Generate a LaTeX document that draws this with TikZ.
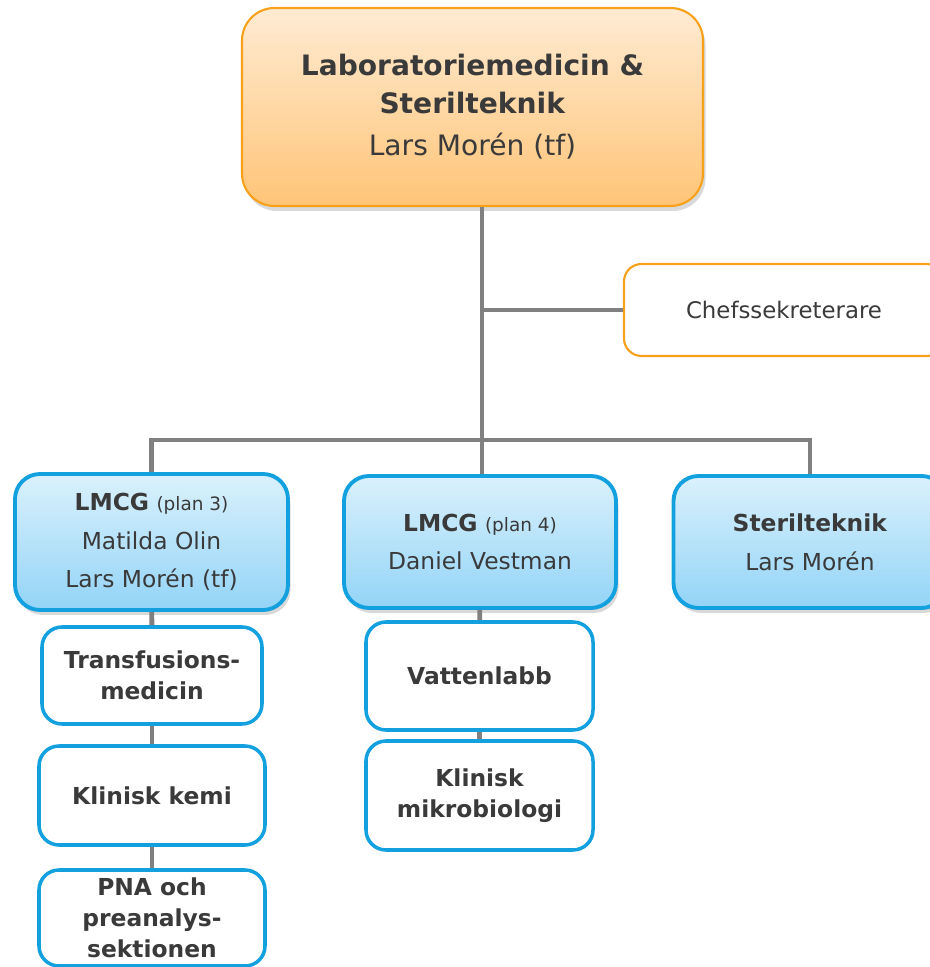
\documentclass[tikz,border=0pt]{standalone}
\usepackage{fontspec}
\setmainfont{DejaVu Sans}
\usetikzlibrary{positioning,shadows}
\definecolor{linegray}{HTML}{808080}
\definecolor{textgray}{HTML}{3A3A3A}
\definecolor{orangeline}{HTML}{F7A11A}
\definecolor{orangetop}{HTML}{FFEBD3}
\definecolor{orangebot}{HTML}{FFC477}
\definecolor{blueline}{HTML}{12A0DE}
\definecolor{bluetop}{HTML}{DAF1FC}
\definecolor{bluebot}{HTML}{93D4F7}

\begin{document}
\begin{tikzpicture}[link/.style={draw=linegray,line width=2.8pt},
	headnode/.style={rectangle,rounded corners=0.65cm,draw=orangeline,line width=1.2pt,top color=orangetop,bottom color=orangebot,drop shadow={shadow xshift=0.05cm,shadow yshift=-0.1cm,opacity=0.3},text=textgray,align=center,inner sep=0pt,font=\fontsize{16}{21.6}\selectfont},
	sidenode/.style={rectangle,rounded corners=0.35cm,draw=orangeline,line width=1.2pt,fill=white,text=textgray,inner sep=0pt,font=\fontsize{13}{17}\selectfont},
	unitnode/.style={rectangle,rounded corners=0.5cm,draw=blueline,line width=2.2pt,top color=bluetop,bottom color=bluebot,drop shadow={shadow xshift=0.05cm,shadow yshift=-0.1cm,opacity=0.3},text=textgray,align=center,inner sep=0pt,minimum height=2.64cm,minimum width=5.46cm,font=\fontsize{13.3}{22}\selectfont},
	subnode/.style={rectangle,rounded corners=0.4cm,draw=blueline,line width=2pt,fill=white,text=textgray,align=center,inner sep=0pt,minimum width=4.5cm,minimum height=2cm,font=\bfseries\fontsize{13.3}{17.5}\selectfont}]
	
	\useasboundingbox (0, 0) rectangle (18.6, 19.34);
	\clip (0, 0) rectangle (18.6, 19.34);
	
	\coordinate (trunk) at (9.64, 10.54);
	
	\node [headnode,minimum width=9.22cm,minimum height=3.96cm] (top) at (9.45, 17.2) {\textbf{Laboratoriemedicin \&}\\\textbf{Sterilteknik}\\[0.08cm]Lars Morén (tf)};
	\node [sidenode,minimum width=6.4cm,minimum height=1.84cm] (chef) at (15.68, 13.14) {Chefssekreterare};
	
	\node [unitnode,minimum height=2.72cm] (lmcgA) at (3.03, 8.5) {\textbf{LMCG} {\fontsize{10.5}{12}\selectfont(plan 3)}\\Matilda Olin\\Lars Morén (tf)};
	\node [unitnode,minimum width=5.44cm] (lmcgB) at (9.6, 8.5) {\textbf{LMCG} {\fontsize{10.5}{12}\selectfont(plan 4)}\\Daniel Vestman};
	\node [unitnode] (steril) at (16.2, 8.5) {\textbf{Sterilteknik}\\Lars Morén};
	
	\node [subnode,minimum width=4.4cm,minimum height=1.94cm] (transf) at (3.04, 5.83) {Transfusions-\\medicin};
	\node [subnode,minimum width=4.52cm,minimum height=1.98cm] (kemi) at (3.04, 3.43) {Klinisk kemi};
	\node [subnode,minimum width=4.52cm,minimum height=1.92cm] (pna) at (3.04, 0.98) {PNA och\\preanalys-\\sektionen};
	\node [subnode,minimum width=4.54cm,minimum height=2.16cm] (vatten) at (9.59, 5.82) {Vattenlabb};
	\node [subnode,minimum width=4.54cm,minimum height=2.18cm] (mikro) at (9.59, 3.43) {Klinisk\\mikrobiologi};
	
	\draw [link] (top.south -| trunk) to (trunk);
	\draw [link] (chef.west) to (chef.west -| trunk);
	\draw [link] (lmcgA) |- (trunk);
	\draw [link] (steril) |- (trunk);
	\draw [link] (lmcgB.north -| trunk) to (trunk);
	
	\draw [link] (lmcgA) to (transf);
	\draw [link] (transf) to (kemi);
	\draw [link] (kemi) to (pna);
	\draw [link] (lmcgB) to (vatten);
	\draw [link] (vatten) to (mikro);
\end{tikzpicture}
\end{document}
